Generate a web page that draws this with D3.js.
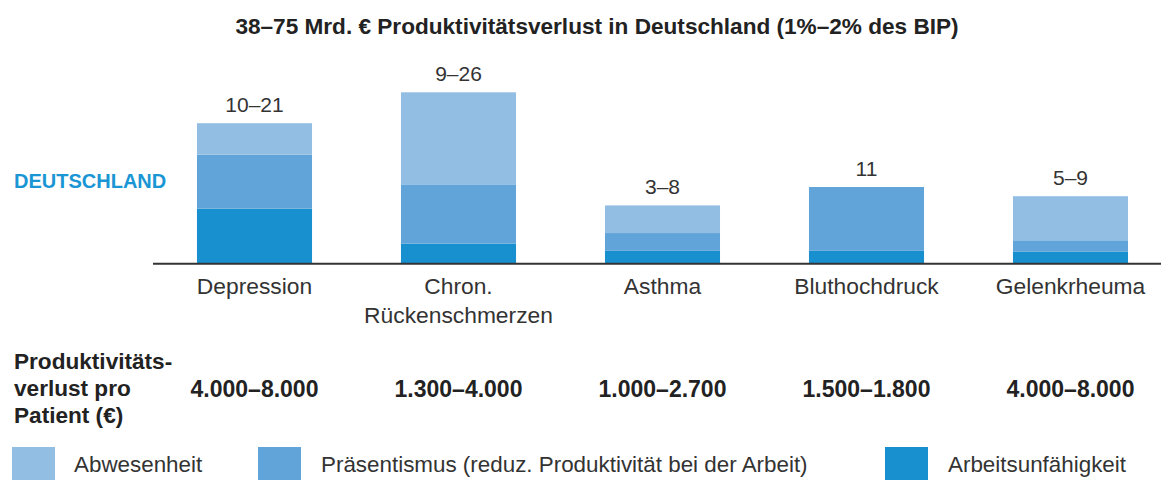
<!DOCTYPE html>
<html>
<head>
<meta charset="utf-8">
<script src="https://cdn.jsdelivr.net/npm/d3@7"></script>
<style>
  body { margin: 0; background: #fff; }
  svg { display: block; font-family: "Liberation Sans", Arial, Helvetica, sans-serif; }
</style>
</head>
<body>
<div id="chart"></div>
<script>
// categories and values (Mrd. €)
const categories = ["Depression", "Chron.\nRückenschmerzen", "Asthma", "Bluthochdruck", "Gelenkrheuma"];
const arbeitsunfaehigkeit = [8.3, 3.0, 1.9, 1.9, 1.8];
const praesentismus = [8.2, 9.0, 2.7, 9.7, 1.7];
const abwesenheit = [4.8, 14.0, 4.2, 0, 6.7];
const rangeLabels = ["10–21", "9–26", "3–8", "11", "5–9"];
const perPatient = ["4.000–8.000", "1.300–4.000", "1.000–2.700", "1.500–1.800", "4.000–8.000"];
const seriesNames = ["Abwesenheit", "Präsentismus (reduz. Produktivität bei der Arbeit)", "Arbeitsunfähigkeit"];

const width = 1161, height = 480;
const colors = {
  "Arbeitsunfähigkeit": "#1890d0",
  "Präsentismus (reduz. Produktivität bei der Arbeit)": "#60a4da",
  "Abwesenheit": "#93bee4"
};

const svg = d3.select("#chart").append("svg")
  .attr("width", width)
  .attr("height", height);

const x = d3.scaleBand()
  .domain(categories)
  .range([152.5, 1172.5])
  .paddingInner(0.436)
  .paddingOuter(0.218);

const y = d3.scaleLinear()
  .domain([0, 26])
  .range([263.3, 92.3]);

// stack bottom -> top
const rows = categories.map((c, i) => ({
  cat: c,
  "Arbeitsunfähigkeit": arbeitsunfaehigkeit[i],
  "Präsentismus (reduz. Produktivität bei der Arbeit)": praesentismus[i],
  "Abwesenheit": abwesenheit[i]
}));
const keys = ["Arbeitsunfähigkeit", "Präsentismus (reduz. Produktivität bei der Arbeit)", "Abwesenheit"];
const stacked = d3.stack().keys(keys)(rows);

svg.append("g")
  .selectAll("g")
  .data(stacked)
  .join("g")
    .attr("fill", d => colors[d.key])
  .selectAll("rect")
  .data(d => d)
  .join("rect")
    .attr("x", d => x(d.data.cat))
    .attr("y", d => y(d[1]))
    .attr("width", x.bandwidth())
    .attr("height", d => y(d[0]) - y(d[1]));

// axis line + category labels
const axis = svg.append("g")
  .attr("transform", "translate(0," + y(0) + ")")
  .call(d3.axisBottom(x).tickSize(0).tickSizeOuter(0));
axis.select(".domain").attr("stroke", "#333").attr("stroke-width", 2);
axis.selectAll(".tick text").remove();
axis.selectAll(".tick").append("text")
  .attr("fill", "#333")
  .attr("font-size", 22.8)
  .attr("text-anchor", "middle")
  .attr("y", 31)
  .selectAll("tspan")
  .data(d => d.split("\n"))
  .join("tspan")
    .attr("x", 0)
    .attr("dy", (d, i) => i === 0 ? 0 : 29)
    .text(d => d);

// range labels above bars
const totals = categories.map((c, i) => arbeitsunfaehigkeit[i] + praesentismus[i] + abwesenheit[i]);
svg.append("g")
  .selectAll("text")
  .data(categories)
  .join("text")
    .attr("x", d => x(d) + x.bandwidth() / 2)
    .attr("y", (d, i) => y(totals[i]) - 11)
    .attr("text-anchor", "middle")
    .attr("font-size", 21)
    .attr("fill", "#333")
    .text((d, i) => rangeLabels[i]);

// title
svg.append("text")
  .attr("x", 597)
  .attr("y", 34)
  .attr("text-anchor", "middle")
  .attr("font-size", 22.6)
  .attr("font-weight", "bold")
  .attr("fill", "#222")
  .text("38–75 Mrd. € Produktivitätsverlust in Deutschland (1%–2% des BIP)");

svg.append("text")
  .attr("x", 14)
  .attr("y", 188)
  .attr("font-size", 20)
  .attr("font-weight", "bold")
  .attr("fill", "#1a96d4")
  .text("DEUTSCHLAND");

// per patient row
const pp = svg.append("text")
  .attr("x", 14)
  .attr("font-size", 22.6)
  .attr("font-weight", "bold")
  .attr("fill", "#222");
["Produktivitäts-", "verlust pro", "Patient (€)"].forEach((t, i) => {
  pp.append("tspan").attr("x", 14).attr("y", 369 + i * 27).text(t);
});

svg.append("g")
  .selectAll("text")
  .data(categories)
  .join("text")
    .attr("x", d => x(d) + x.bandwidth() / 2)
    .attr("y", 397)
    .attr("text-anchor", "middle")
    .attr("font-size", 23)
    .attr("font-weight", "bold")
    .attr("fill", "#222")
    .text((d, i) => perPatient[i]);

// legend
const legendX = [12, 258, 885];
const leg = svg.append("g")
  .selectAll("g")
  .data(seriesNames)
  .join("g")
    .attr("transform", (d, i) => "translate(" + legendX[i] + ",447)");
leg.append("rect")
  .attr("width", 43)
  .attr("height", 43)
  .attr("fill", d => colors[d]);
leg.append("text")
  .attr("x", (d, i) => i === 0 ? 62 : 63)
  .attr("y", 25)
  .attr("font-size", 22.4)
  .attr("fill", "#333")
  .text(d => d);
</script>
</body>
</html>
